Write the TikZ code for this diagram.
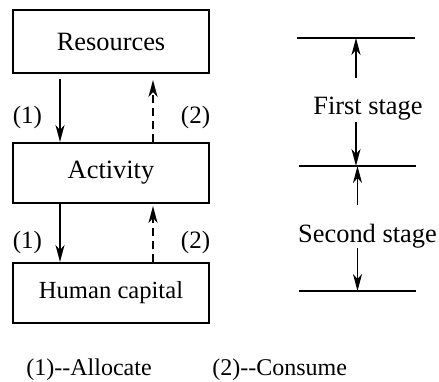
\documentclass[tikz,border=0pt]{standalone}
\usepackage{fontspec}
\setmainfont{Liberation Serif}
\usetikzlibrary{arrows.meta}
\usetikzlibrary{calc}

\tikzset{
  box/.style={draw, line width=1pt, minimum width=98pt, inner sep=0pt},
  alloc/.style={line width=0.75pt, -{Stealth[length=8.5pt,width=4.5pt,inset=2.5pt]}},
  consume/.style={alloc, dash pattern=on 4pt off 2.5pt},
  stageline/.style={line width=0.75pt},
  big/.style={font=\fontsize{13.2}{16}\selectfont},
  tag/.style={font=\fontsize{12.5}{15}\selectfont},
}

\begin{document}
\begin{tikzpicture}[x=0.5pt,y=-0.5pt]
\useasboundingbox (0,0) rectangle (439,381);

% Boxes on the left
\node[box, big, minimum height=31.5pt] (res) at (111,41.5) {Resources};
\node[box, big, minimum height=30pt] (act) at (111,173) {Activity};
\node[box, minimum height=30pt, font=\fontsize{12.3}{15}\selectfont] (hum) at (111,293) {Human capital};

% Allocate (solid) and consume (dashed)
\draw[alloc, shorten <=2.5pt] ([xshift=-25.5pt]res.south) -- ([xshift=-25.5pt]act.north);
\draw[consume, shorten >=3pt] ([xshift=21pt]act.north) -- ([xshift=21pt]res.south);
\draw[alloc] ([xshift=-25.5pt]act.south) -- ([xshift=-25.5pt]hum.north);
\draw[consume, shorten >=1pt] ([xshift=21pt]hum.north) -- ([xshift=21pt]act.south);

\node[tag] (al1) at (27.5,117) {(1)};
\node[tag] (co1) at (195.5,117) {(2)};
\node[tag] (al2) at (27.5,242) {(1)};
\node[tag] (co2) at (195.5,242) {(2)};

% Stage marks on the right
\coordinate (a1) at (297,38);
\coordinate (b1) at (415,38);
\coordinate (a2) at (299,166);
\coordinate (b2) at (416,166);
\coordinate (a3) at (299,291);
\coordinate (b3) at (416,291);
\coordinate (m1) at ($(a1)!0.5!(b1)$);
\coordinate (m2) at ($(a2)!0.5!(b2)$);
\coordinate (m3) at ($(a3)!0.5!(b3)$);
\draw[stageline] (a1) -- (b1);
\draw[stageline] (a2) -- (b2);
\draw[stageline] (a3) -- (b3);

\node[big, inner sep=0pt, anchor=base] (first) at (368,114) {First stage};
\node[big, inner sep=0pt, anchor=base] (second) at (367.5,242) {Second stage};

\draw[alloc, shorten <=9pt] (first.north -| m1) -- (m1);
\draw[alloc, shorten <=1pt] (first.south -| m1) -- (m1 |- m2);
\draw[alloc, shorten <=9pt] (second.north -| m2) -- (m2);
\draw[alloc] (second.south -| m3) -- (m3);

% Legend
\node[font=\fontsize{12}{14}\selectfont, inner sep=0pt, anchor=base west] (leg1) at (26,375) {(1)-{}-Allocate};
\node[font=\fontsize{12}{14}\selectfont, inner sep=0pt, anchor=base west] (leg2) at (212,375) {(2)-{}-Consume};
\end{tikzpicture}
\end{document}
